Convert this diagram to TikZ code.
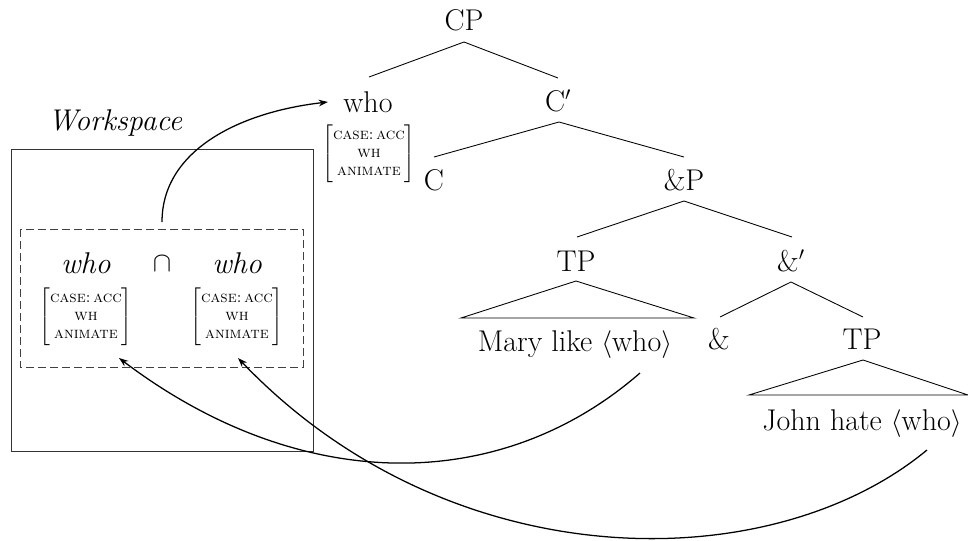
\documentclass[tikz,border=0pt]{standalone}
\usepackage{amsmath}
\usepackage{fontspec}
\usetikzlibrary{arrows.meta}
\newcommand{\featbox}{$\left[\vcenter{\hbox{\begin{tabular}{@{}c@{}}\textsc{case:\,acc}\\\textsc{wh}\\\textsc{animate}\end{tabular}}}\right]$}
\begin{document}
\begin{tikzpicture}[x=0.75pt,y=-0.75pt,
  font=\fontsize{22.5}{27}\selectfont,
  lab/.style={inner sep=0pt, anchor=base},
  itlab/.style={inner sep=0pt, anchor=base, font=\fontsize{22.5}{27}\selectfont\itshape},
  feat/.style={inner sep=0pt, font=\fontsize{12}{13.7}\selectfont},
  branch/.style={line width=0.65pt},
  mv/.style={line width=0.95pt, -{Stealth[length=7pt,width=5pt]}},
  wsbox/.style={line width=0.65pt, draw=black!80},
  dbox/.style={line width=0.65pt, draw=black!75, dash pattern=on 6pt off 3pt}]
\useasboundingbox (0,0) rectangle (968,540);

% tree labels
\node[lab] (cp) at (464,30) {CP};
\node[lab] (who) at (368,112) {who};
\node[lab] (cbar) at (558,111) {C$'$};
\node[lab] (c) at (434,190) {C};
\node[lab] (andp) at (684,190) {\&P};
\node[lab] (tp1) at (576,271) {TP};
\node[lab] (andbar) at (791,271) {\&$'$};
\node[lab] (mary) at (575,351) {Mary like $\langle$who$\rangle$};
\node[lab] (amp) at (719,349) {\&};
\node[lab] (tp2) at (862,349) {TP};
\node[lab] (john) at (862,430) {John hate $\langle$who$\rangle$};
\node[feat] (f0) at (369,154) {\featbox};

% branches
\coordinate (cp-a) at (464,42);
\coordinate (cp-l) at (369,77);
\coordinate (cp-r) at (558,78);
\draw[branch] (cp-l) -- (cp-a) -- (cp-r);
\coordinate (cb-a) at (559,122);
\coordinate (cb-l) at (434,157);
\coordinate (cb-r) at (684,157);
\draw[branch] (cb-l) -- (cb-a) -- (cb-r);
\coordinate (ap-a) at (684,201);
\coordinate (ap-l) at (577,237);
\coordinate (ap-r) at (792,237);
\draw[branch] (ap-l) -- (ap-a) -- (ap-r);
\coordinate (t1-a) at (576,281);
\coordinate (t1-l) at (461,318);
\coordinate (t1-r) at (694,318);
\draw[branch] (t1-l) -- (t1-a) -- (t1-r) -- cycle;
\coordinate (ab-a) at (791,282);
\coordinate (ab-l) at (720,317);
\coordinate (ab-r) at (863,317);
\draw[branch] (ab-l) -- (ab-a) -- (ab-r);
\coordinate (t2-a) at (863,360);
\coordinate (t2-l) at (749,395);
\coordinate (t2-r) at (968,395);
\draw[branch] (t2-l) -- (t2-a) -- (t2-r) -- cycle;

% workspace
\node[itlab] (ws) at (115,130) {Workspace};
\draw[wsbox] (11,149) rectangle (313,451);
\draw[dbox] (20,229) rectangle (303,367);
\node[itlab] (w1) at (86,273) {who};
\node[itlab] (w2) at (237,273) {who};
\node[lab, font=\fontsize{20}{24}\selectfont] (cap) at (162,271) {$\cap$};
\node[feat] (f1) at (86,317) {\featbox};
\node[feat] (f2) at (237,317) {\featbox};

% movement arrows
\coordinate (m0s) at (162,222);
\coordinate (m0e) at (328,102);
\draw[mv] (m0s) .. controls (162,150) and (240,112) .. (m0e);
\coordinate (m1s) at (640,373);
\coordinate (m1e) at (119,358);
\draw[mv] (m1s) .. controls (500,495) and (300,495) .. (m1e);
\coordinate (m2s) at (927,450);
\coordinate (m2e) at (238,358);
\draw[mv] (m2s) .. controls (770,580) and (450,580) .. (m2e);
\end{tikzpicture}
\end{document}
